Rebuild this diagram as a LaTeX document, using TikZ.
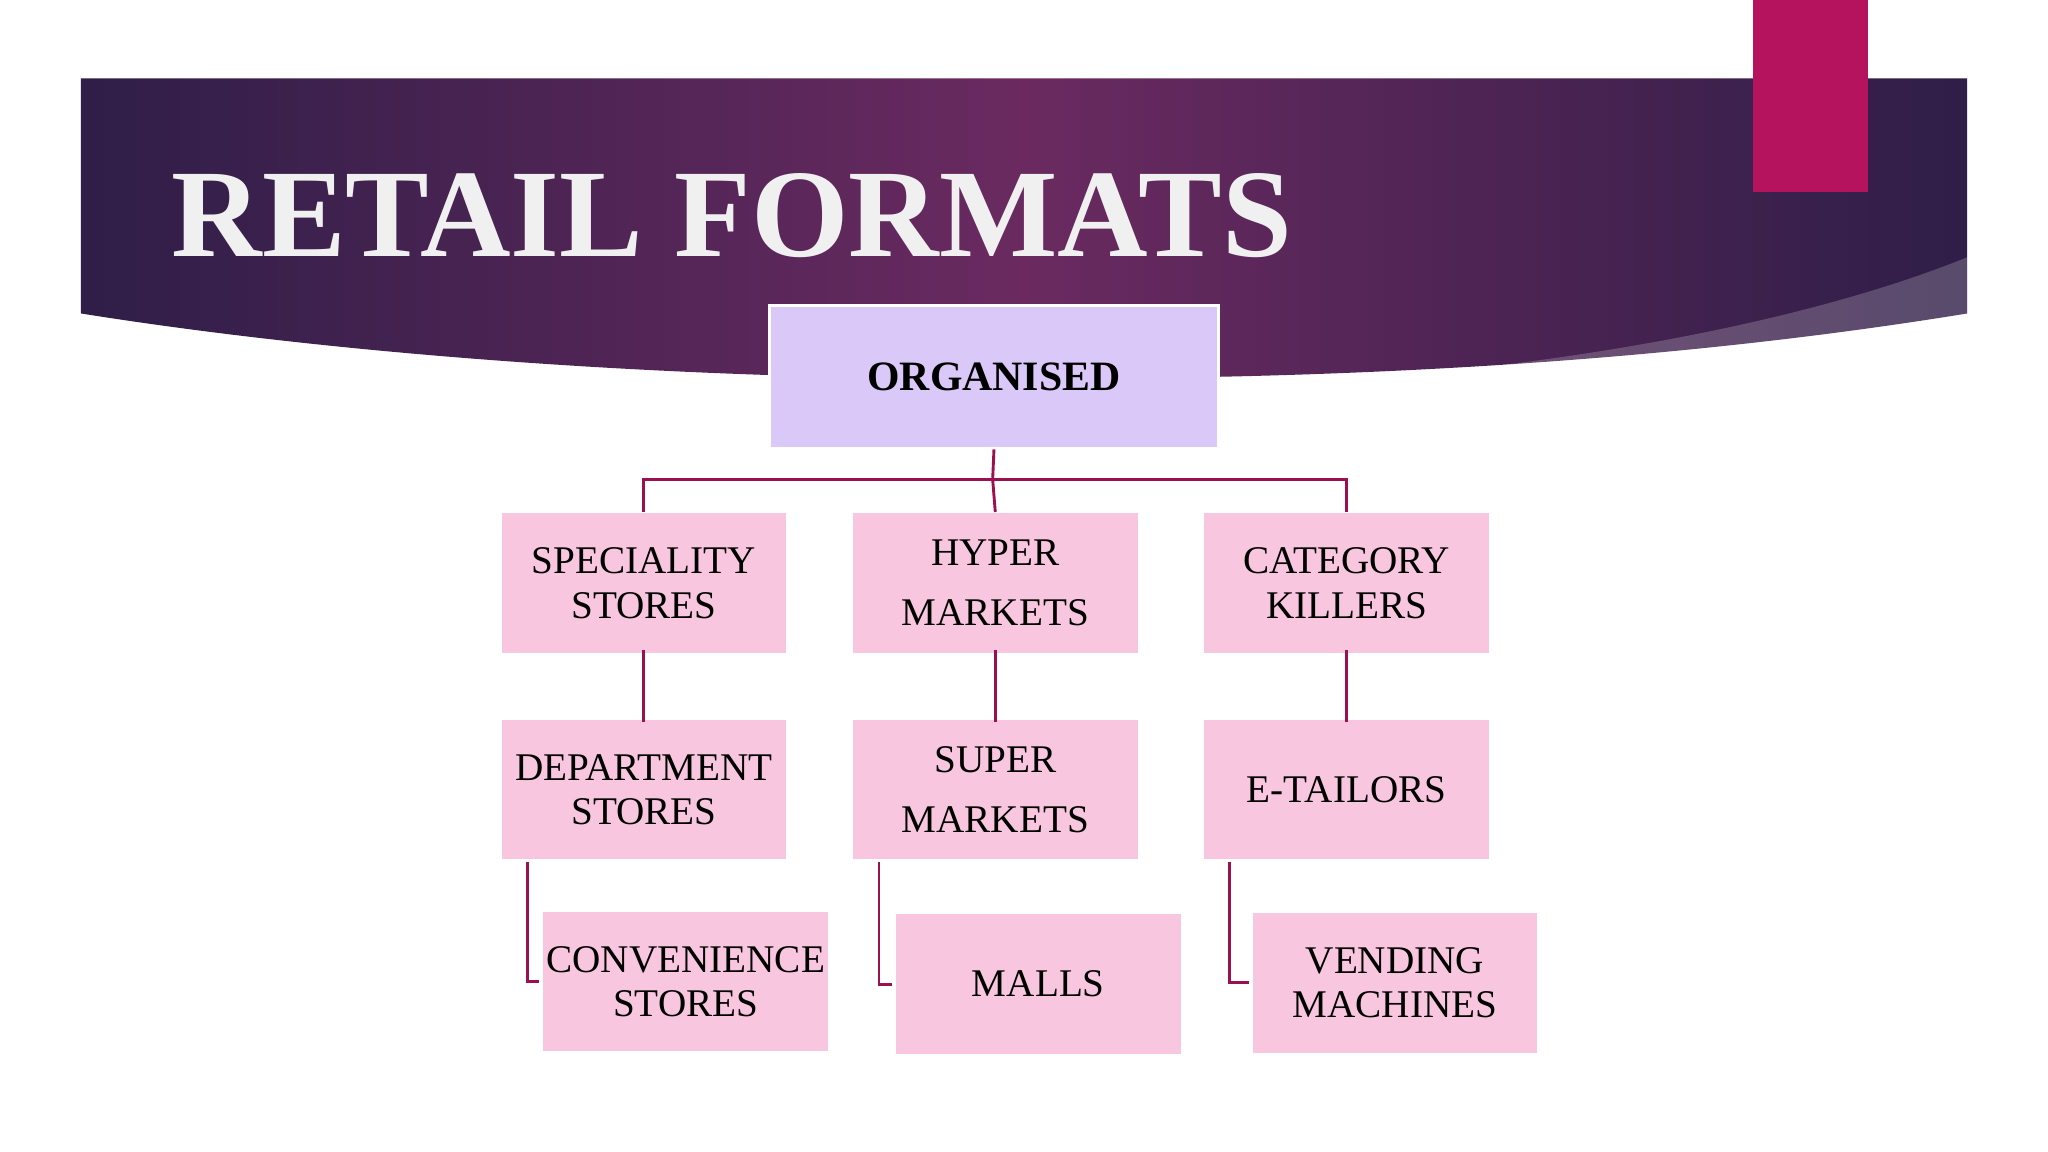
\documentclass[tikz,border=0pt]{standalone}
\usepackage{fontspec}
\setmainfont{Liberation Serif}
\begin{document}
\begin{tikzpicture}[x=1pt,y=-1pt,
  bx/.style={fill=boxpink,draw=white,line width=1pt,minimum width=219pt,minimum height=108pt,inner sep=0pt,align=center,font=\fontsize{30}{34}\selectfont,anchor=north west},
  ln/.style={draw=linecol,line width=2.2pt}]
\definecolor{boxpink}{HTML}{F8C6DE}
\definecolor{linecol}{HTML}{9B1150}
\definecolor{bandA}{HTML}{2F1E48}
\definecolor{bandB}{HTML}{6A2A60}
\useasboundingbox (0,0) rectangle (1568,882);
\fill[white] (0,0) rectangle (1568,882);
\shade[left color=bandA,right color=bandA,middle color=bandB]
  (62,60) -- (1506,60) -- (1506,240) .. controls (1200,290) and (900,290) .. (760,290)
  .. controls (500,290) and (250,270) .. (62,240) -- cycle;
\fill[white,opacity=0.2] (1506,197) .. controls (1400,240) and (1250,270) .. (1100,285) .. controls (1300,275) and (1420,255) .. (1506,240) -- cycle;
\fill[white,opacity=0.5] (0,0) rectangle (1568,1.5);
\fill[fill={rgb,255:red,181;green,19;blue,94}] (1342,0) rectangle (1430,147);
\node[anchor=west,text=white!94!black,font=\bfseries\fontsize{96}{100}\selectfont] (title) at (128,165) {RETAIL FORMATS};
\node[bx,fill={rgb,255:red,217;green,200;blue,248},minimum width=344pt,minimum height=109pt,font=\bfseries\fontsize{32}{36}\selectfont,line width=2pt] (org) at (588,233) {ORGANISED};
\node[bx] (spec) at (383,392) {SPECIALITY\\STORES};
\node[bx,font=\fontsize{30}{46}\selectfont] (hyper) at (652,392) {HYPER\\MARKETS};
\node[bx] (cat) at (921,392) {CATEGORY\\KILLERS};
\node[bx] (dept) at (383,550) {DEPARTMENT\\STORES};
\node[bx,font=\fontsize{30}{46}\selectfont] (super) at (652,550) {SUPER\\MARKETS};
\node[bx] (etail) at (921,550) {E-TAILORS};
\node[bx] (conv) at (415,697) {CONVENIENCE\\STORES};
\node[bx] (malls) at (685,699) {MALLS};
\node[bx] (vend) at (958,698) {VENDING\\MACHINES};
\coordinate (j) at (760,367);
\draw[ln] (org.south) -- (j);
\draw[ln] (spec.north) -- (spec.north |- j) -- (cat.north |- j) -- (cat.north);
\draw[ln] (j) -- (hyper.north);
\draw[ln] ([yshift=3pt]spec.south) -- ([yshift=-3pt]dept.north);
\draw[ln] ([yshift=3pt]hyper.south) -- ([yshift=-3pt]super.north);
\draw[ln] ([yshift=3pt]cat.south) -- ([yshift=-3pt]etail.north);
\draw[ln] (404,660) |- ([xshift=-2pt]conv.west);
\draw[ln] (673,660) |- ([xshift=-2pt]malls.west);
\draw[ln] (941,660) |- ([xshift=-2pt]vend.west);
\end{tikzpicture}
\end{document}
